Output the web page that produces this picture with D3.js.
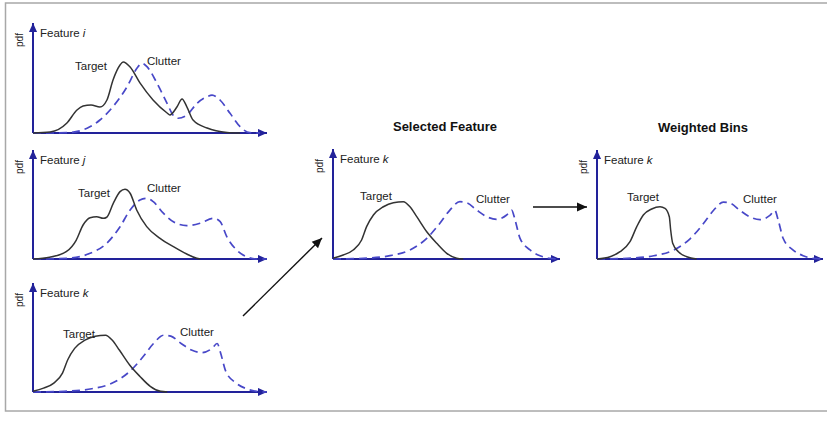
<!DOCTYPE html>
<html>
<head>
<meta charset="utf-8">
<script src="https://cdn.jsdelivr.net/npm/d3@7"></script>
<style>
  body { margin: 0; background: #fff; }
  svg { display: block; font-family: "Liberation Sans", Arial, sans-serif; }
</style>
</head>
<body>
<svg id="chart"></svg>
<script>
const totalWidth = 827;
const totalHeight = 422;

// pdf curves, x and y both on a 0..100 scale along each axis
const targetI = [[0,0],[7.3,0.9],[14.5,9.1],[18.8,20.9],[21.4,24.5],[24.8,25.5],[28.6,23.6],[31.6,30],[34.2,48.2],[37.2,61.8],[38.5,64.5],[41.5,60],[45.7,45.5],[51.3,30],[57.3,18.2],[58.5,16.4],[61.5,23.6],[63.7,30.9],[65.8,23.6],[68.4,11.8],[74.4,4.5],[82.9,0.5],[88.5,0]];
const clutterI = [[0,0],[7.3,0],[14.5,0.3],[23.1,4.3],[28.6,11.8],[34.2,24],[40.2,42.1],[44.4,58.8],[46.6,63.4],[48.7,60.3],[53,45.2],[57.3,27],[59.8,16.4],[62,13.4],[65.8,16.4],[70.1,27],[74.4,33],[76.5,34.5],[79.9,30],[84.2,17.9],[88.5,5.7],[92.7,0.3],[97,0]];
const targetJ = [[0,0],[7.1,1.6],[14.2,6.7],[18.5,17.4],[21.4,31.2],[24.4,37.9],[27.2,38.8],[30,37.3],[31.5,38.3],[34.3,51.1],[37.2,61.8],[39.3,64],[41.5,60.3],[44.3,45],[48.6,29.7],[54.3,19],[60,11.3],[65.7,4.6],[70,0.6],[71.4,0]];
const clutterJ = [[0,0],[14.4,0.6],[24.4,5.2],[31.5,14.4],[37.2,29.6],[41.5,45],[45.7,54.1],[48.6,55.7],[51.4,52.6],[55.7,42],[60,34.2],[65.7,30.6],[71.4,32.8],[77.1,37.3],[80,34.2],[82.8,20.5],[87,8.3],[91.3,2.1],[95.6,0],[100,0]];
const targetK = [[0,0.6],[4.5,3.6],[8.9,8.2],[12.6,17.3],[14.8,29.4],[17.8,40],[22.2,47.5],[26.6,51.2],[31,52.1],[33.9,47.5],[36.9,38.5],[41.3,24.8],[45.7,14.3],[50.1,5.2],[54.5,0.6],[57.4,0]];
const clutterK = [[0,0],[13.3,0.6],[25.1,3],[33.9,8.2],[41.3,18.8],[47.1,32.5],[51.5,44.5],[55.9,52.1],[58.9,51.2],[63.3,44.5],[67.7,38.5],[72.1,36.1],[76.5,40],[78.7,44.5],[80.2,35.5],[82.4,18.8],[86.8,8.2],[91.2,3],[95.6,0.6],[100,0]];
const targetKWeighted = [[0,0],[5.8,2.1],[10.2,6.7],[14.6,15.9],[17.6,29.7],[20.5,40.4],[24.2,45.9],[27.9,48],[30.1,46.5],[32,38.8],[32.6,26.6],[33.5,14.4],[36,6.7],[39.7,2.1],[44.1,0]];

const featureLetters = ["i", "j", "k", "k", "k"];
const stageTitles = ["Selected Feature", "Weighted Bins"];

// panel layout: origin of axes (x0, y0), axis length (w, h), label offsets
const panels = [
    { x0: 33, y0: 133, w: 234, h: 110, target: targetI, clutter: clutterI, feature: featureLetters[0], tLab: [42, -63], cLab: [114, -68] },
    { x0: 33, y0: 259, w: 234, h: 109, target: targetJ, clutter: clutterJ, feature: featureLetters[1], tLab: [45, -62], cLab: [114, -67] },
    { x0: 33, y0: 392, w: 234, h: 109, target: targetK, clutter: clutterK, feature: featureLetters[2], tLab: [30, -54], cLab: [147, -56] },
    { x0: 333, y0: 259, w: 227, h: 110, target: targetK, clutter: clutterK, feature: featureLetters[3], tLab: [27, -59], cLab: [143, -56], title: stageTitles[0], titleX: 112 },
    { x0: 597, y0: 259, w: 226, h: 109, target: targetKWeighted, clutter: clutterK, feature: featureLetters[4], tLab: [30, -58], cLab: [146, -56], title: stageTitles[1], titleX: 106 }
];

const axisColor = "#22229a";
const targetColor = "#333333";
const clutterColor = "#4848c8";
const textColor = "#222222";

const svg = d3.select('#chart')
    .attr('width', totalWidth)
    .attr('height', totalHeight);

// frame
svg.append("rect")
    .attr("x", 5.5)
    .attr("y", 3)
    .attr("width", totalWidth)
    .attr("height", 408)
    .style("fill", "none")
    .style("stroke", "#a8a8a8")
    .style("stroke-width", 1.5);

const defs = svg.append("defs");
function marker(id, color, size) {
    defs.append("marker")
        .attr("id", id)
        .attr("viewBox", "0 -5 10 10")
        .attr("refX", 10)
        .attr("refY", 0)
        .attr("markerUnits", "userSpaceOnUse")
        .attr("markerWidth", size)
        .attr("markerHeight", size)
        .attr("orient", "auto")
        .append("path")
        .attr("d", "M0,-4.5L10,0L0,4.5Z")
        .style("fill", color);
}
marker("axis-arrow", axisColor, 9);
marker("flow-arrow", "#111", 10);

panels.forEach(p => {
    const x = d3.scaleLinear().domain([0, 100]).range([p.x0, p.x0 + p.w]);
    const y = d3.scaleLinear().domain([0, 100]).range([p.y0, p.y0 - p.h]);
    const line = d3.line()
        .x(d => x(d[0]))
        .y(d => y(d[1]))
        .curve(d3.curveMonotoneX);

    const g = svg.append("g");

    // axes
    g.append("line")
        .attr("x1", x(0)).attr("y1", y(0))
        .attr("x2", x(0)).attr("y2", y(100))
        .attr("marker-end", "url(#axis-arrow)")
        .style("stroke", axisColor)
        .style("stroke-width", 2);
    g.append("line")
        .attr("x1", x(0)).attr("y1", y(0))
        .attr("x2", x(100)).attr("y2", y(0))
        .attr("marker-end", "url(#axis-arrow)")
        .style("stroke", axisColor)
        .style("stroke-width", 2);

    // curves
    g.append("path")
        .attr("d", line(p.clutter))
        .style("fill", "none")
        .style("stroke", clutterColor)
        .style("stroke-width", 1.7)
        .style("stroke-dasharray", "8,5");
    g.append("path")
        .attr("d", line(p.target))
        .style("fill", "none")
        .style("stroke", targetColor)
        .style("stroke-width", 1.5);

    // labels
    g.append("text")
        .attr("transform", `translate(${p.x0 - 10},${y(100) + 17}) rotate(-90)`)
        .attr("text-anchor", "middle")
        .attr("font-size", "10px")
        .attr("fill", textColor)
        .text("pdf");
    const f = g.append("text")
        .attr("x", p.x0 + 7)
        .attr("y", y(100) + 14)
        .attr("font-size", "11.5px")
        .attr("fill", textColor);
    f.append("tspan").text("Feature ");
    f.append("tspan").attr("font-style", "italic").text(p.feature);

    g.append("text")
        .attr("x", p.x0 + p.tLab[0])
        .attr("y", p.y0 + p.tLab[1])
        .attr("font-size", "11.5px")
        .attr("fill", textColor)
        .text("Target");
    g.append("text")
        .attr("x", p.x0 + p.cLab[0])
        .attr("y", p.y0 + p.cLab[1])
        .attr("font-size", "11.5px")
        .attr("fill", textColor)
        .text("Clutter");

    if (p.title) {
        g.append("text")
            .attr("x", p.x0 + p.titleX)
            .attr("y", y(100) - 18)
            .attr("text-anchor", "middle")
            .attr("font-size", "13px")
            .attr("font-weight", "bold")
            .attr("fill", "#111")
            .text(p.title);
    }
});

// flow arrows between stages
svg.append("line")
    .attr("x1", 243).attr("y1", 316)
    .attr("x2", 322).attr("y2", 238)
    .attr("marker-end", "url(#flow-arrow)")
    .style("stroke", "#111")
    .style("stroke-width", 1.4);
svg.append("line")
    .attr("x1", 533).attr("y1", 207)
    .attr("x2", 587).attr("y2", 207)
    .attr("marker-end", "url(#flow-arrow)")
    .style("stroke", "#111")
    .style("stroke-width", 1.4);
</script>
</body>
</html>
